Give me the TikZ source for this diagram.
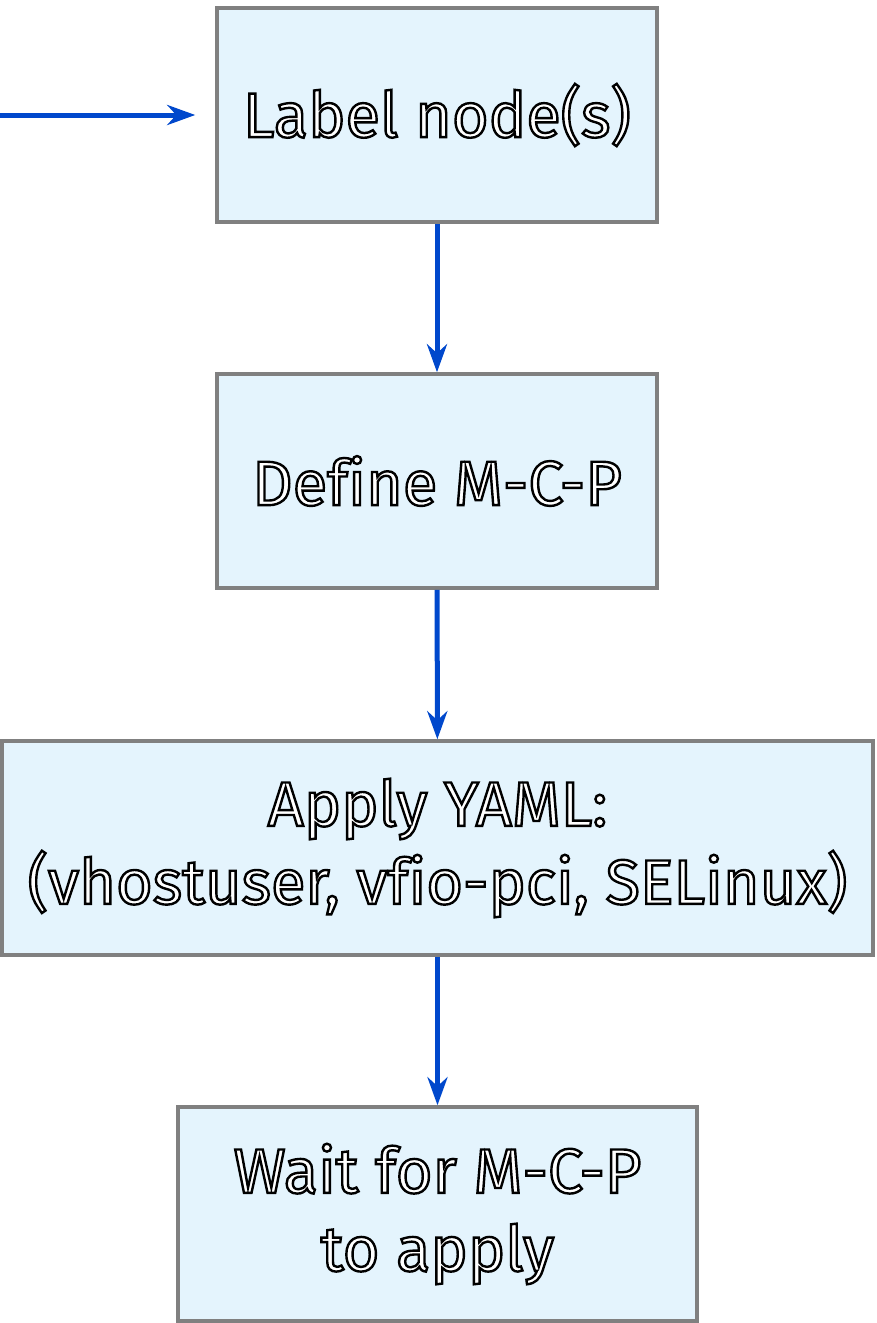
\documentclass[tikz,border=0pt]{standalone}
\usepackage{fontspec}
\setmainfont[Ligatures=NoCommon]{Fira Sans}
\usetikzlibrary{arrows.meta}
\definecolor{boxfill}{HTML}{E4F4FD}
\definecolor{boxline}{HTML}{808080}
\definecolor{arrowblue}{HTML}{0048CC}
\newcommand\outlinetext[1]{{\color{white}\special{pdf:literal direct 2 Tr 2.4 w 0 G}#1\special{pdf:literal direct 0 Tr}}}
\tikzset{
  stepbox/.style={draw=boxline, line width=3.5pt, fill=boxfill, minimum height=214pt,
    inner sep=0pt, align=center,
    font=\fontsize{63pt}{78pt}\selectfont},
  flow/.style={draw=arrowblue, line width=5pt, -{Stealth[length=28pt,width=20pt,inset=9pt]}}
}
\begin{document}
\begin{tikzpicture}[x=1pt,y=-1pt]
\useasboundingbox (0,0) rectangle (877,1323);
\node[stepbox, minimum width=440pt] (label) at (437,115) {\outlinetext{Label node(s)}};
\node[stepbox, minimum width=440pt] (define) at (437,481) {\outlinetext{Define M-C-P}};
\node[stepbox, minimum width=871pt] (apply) at (437.5,848) {\outlinetext{Apply YAML:}\\\outlinetext{(vhostuser, vfio-pci, SELinux)}};
\node[stepbox, minimum width=519pt] (wait) at (437.5,1214) {\outlinetext{Wait for M-C-P}\\\outlinetext{to apply}};
\coordinate (start) at (0,115);
\draw[flow, shorten >=20pt] (start) -- (label.west);
\draw[flow] (label) -- (define);
\draw[flow] (define) -- (apply);
\draw[flow] (apply) -- (wait);
\end{tikzpicture}
\end{document}
